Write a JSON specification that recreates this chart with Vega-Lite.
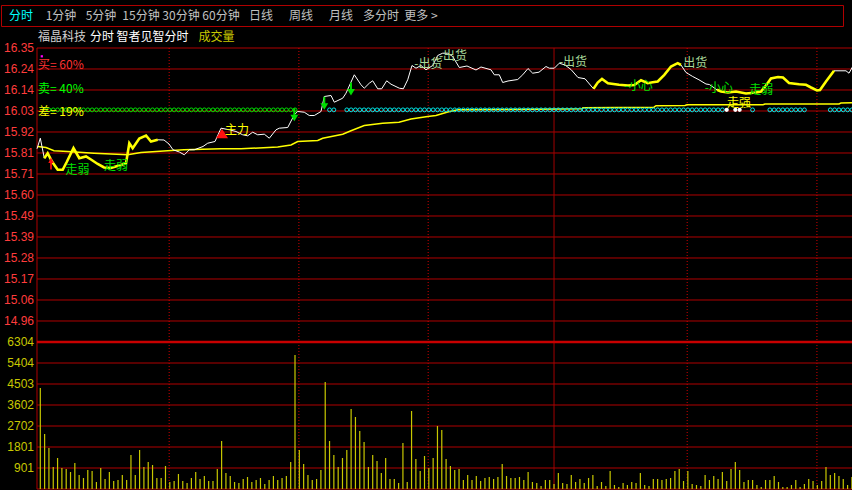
{
  "$schema": "https://vega.github.io/schema/vega-lite/v6.json",
  "background": "#000000",
  "padding": {"left": 0, "top": 4, "right": 0, "bottom": 0},
  "bounds": "flush",
  "spacing": 0,
  "resolve": {"scale": {"color": "independent", "x": "independent"}},
  "config": {"view": {"stroke": null}, "text": {"font": "Noto Sans CJK SC"}},
  "datasets": {
    "toolbar": [
      {"item": "分时", "i": 0, "state": "on"}, {"item": "1分钟", "i": 1, "state": "off"}, {"item": "5分钟", "i": 2, "state": "off"},
      {"item": "15分钟", "i": 3, "state": "off"}, {"item": "30分钟", "i": 4, "state": "off"}, {"item": "60分钟", "i": 5, "state": "off"},
      {"item": "日线", "i": 6, "state": "off"}, {"item": "周线", "i": 7, "state": "off"}, {"item": "月线", "i": 8, "state": "off"},
      {"item": "多分时", "i": 9, "state": "off"}, {"item": "更多 >", "i": 10, "state": "off"}
    ],
    "titlebar": [
      {"item": "福晶科技", "i": 0, "state": "name"}, {"item": "分时 智者见智分时", "i": 1, "state": "title"}, {"item": "成交量", "i": 2, "state": "ind"}
    ],
    "pgrid": [
      {"p": 16.35, "label": "16.35"}, {"p": 16.2430769, "label": "16.24"}, {"p": 16.1361538, "label": "16.14"},
      {"p": 16.0292308, "label": "16.03"}, {"p": 15.9223077, "label": "15.92"}, {"p": 15.8153846, "label": "15.81"},
      {"p": 15.7084615, "label": "15.71"}, {"p": 15.6015385, "label": "15.60"}, {"p": 15.4946154, "label": "15.49"},
      {"p": 15.3876923, "label": "15.39"}, {"p": 15.2807692, "label": "15.28"}, {"p": 15.1738462, "label": "15.17"},
      {"p": 15.0669231, "label": "15.06"}, {"p": 14.96, "label": "14.96"}
    ],
    "vgrid": [
      {"v": 0, "k": "g", "label": ""}, {"v": 900.5714, "k": "g", "label": "901"}, {"v": 1801.1429, "k": "g", "label": "1801"},
      {"v": 2701.7143, "k": "g", "label": "2702"}, {"v": 3602.2857, "k": "g", "label": "3602"}, {"v": 4502.8571, "k": "g", "label": "4503"},
      {"v": 5403.4286, "k": "g", "label": "5404"}, {"v": 6304, "k": "t", "label": "6304"}
    ],
    "vlines": [
      {"m": 29.85, "k": "d"}, {"m": 59.9, "k": "d"}, {"m": 89.85, "k": "d"}, {"m": 119.0, "k": "s"}, {"m": 149.85, "k": "d"}, {"m": 179.9, "k": "d"}
    ],
    "border": [{"m": -0.7644}],
    "price": [
      {"m": -0.76, "p": 15.8368, "s": 0}, {"m": 0, "p": 15.8907, "s": 0}, {"m": 0.93, "p": 15.7889, "s": 1},
      {"m": 1.71, "p": 15.8144, "s": 1}, {"m": 2.71, "p": 15.7721, "s": 1}, {"m": 4.03, "p": 15.7298, "s": 1},
      {"m": 5.19, "p": 15.7298, "s": 1}, {"m": 6.18, "p": 15.7721, "s": 1}, {"m": 7.69, "p": 15.8408, "s": 1},
      {"m": 9.03, "p": 15.7889, "s": 1}, {"m": 10.59, "p": 15.7976, "s": 1}, {"m": 11.74, "p": 15.7823, "s": 1},
      {"m": 13.3, "p": 15.7594, "s": 1}, {"m": 14.76, "p": 15.7416, "s": 1}, {"m": 16.38, "p": 15.739, "s": 1},
      {"m": 18.23, "p": 15.7517, "s": 1}, {"m": 19.85, "p": 15.7619, "s": 1}, {"m": 20.62, "p": 15.8653, "s": 1},
      {"m": 21.4, "p": 15.8398, "s": 1}, {"m": 22.93, "p": 15.8892, "s": 1}, {"m": 24.49, "p": 15.9045, "s": 1},
      {"m": 25.64, "p": 15.8739, "s": 1}, {"m": 27.2, "p": 15.8826, "s": 1}, {"m": 28.65, "p": 15.8816, "s": 0},
      {"m": 29.81, "p": 15.8612, "s": 0}, {"m": 30.74, "p": 15.8317, "s": 0}, {"m": 32.2, "p": 15.8205, "s": 0},
      {"m": 33.36, "p": 15.8062, "s": 0}, {"m": 34.52, "p": 15.8317, "s": 0}, {"m": 35.67, "p": 15.8317, "s": 0},
      {"m": 37.69, "p": 15.8485, "s": 0}, {"m": 38.78, "p": 15.8653, "s": 0}, {"m": 40.47, "p": 15.8739, "s": 0},
      {"m": 41.86, "p": 15.9417, "s": 0}, {"m": 43.78, "p": 15.9335, "s": 0}, {"m": 45.33, "p": 15.9249, "s": 0},
      {"m": 46.88, "p": 15.9081, "s": 0}, {"m": 48.04, "p": 15.903, "s": 0}, {"m": 49.2, "p": 15.9213, "s": 0},
      {"m": 50.36, "p": 15.9081, "s": 0}, {"m": 51.89, "p": 15.9111, "s": 0}, {"m": 53.05, "p": 15.8907, "s": 0},
      {"m": 54.6, "p": 15.9335, "s": 0}, {"m": 55.36, "p": 15.9417, "s": 0}, {"m": 57.31, "p": 15.9452, "s": 0},
      {"m": 58.84, "p": 16.0099, "s": 0}, {"m": 59.62, "p": 16.0267, "s": 0}, {"m": 61.15, "p": 16.0231, "s": 0},
      {"m": 62.31, "p": 16.0063, "s": 0}, {"m": 63.47, "p": 16.0063, "s": 0}, {"m": 65.02, "p": 16.0267, "s": 0},
      {"m": 65.79, "p": 16.1031, "s": 0}, {"m": 67.34, "p": 16.1082, "s": 0}, {"m": 68.1, "p": 16.074, "s": 0},
      {"m": 70.05, "p": 16.0944, "s": 0}, {"m": 70.81, "p": 16.1199, "s": 0}, {"m": 72.74, "p": 16.2136, "s": 0},
      {"m": 74.29, "p": 16.1626, "s": 0}, {"m": 75.05, "p": 16.1453, "s": 0}, {"m": 76.21, "p": 16.1708, "s": 0},
      {"m": 77.0, "p": 16.183, "s": 0}, {"m": 78.16, "p": 16.1423, "s": 0}, {"m": 79.08, "p": 16.1423, "s": 0},
      {"m": 80.24, "p": 16.183, "s": 0}, {"m": 81.24, "p": 16.1657, "s": 0}, {"m": 83.16, "p": 16.1453, "s": 0},
      {"m": 84.09, "p": 16.1423, "s": 0}, {"m": 85.11, "p": 16.1881, "s": 0}, {"m": 86.1, "p": 16.2609, "s": 0},
      {"m": 87.03, "p": 16.2471, "s": 0}, {"m": 88.19, "p": 16.2609, "s": 0}, {"m": 89.34, "p": 16.239, "s": 0},
      {"m": 90.9, "p": 16.2609, "s": 0}, {"m": 92.05, "p": 16.3118, "s": 0}, {"m": 93.21, "p": 16.3235, "s": 0},
      {"m": 94.37, "p": 16.3235, "s": 0}, {"m": 95.53, "p": 16.3067, "s": 0}, {"m": 97.06, "p": 16.2507, "s": 0},
      {"m": 98.84, "p": 16.2584, "s": 0}, {"m": 100.93, "p": 16.238, "s": 0}, {"m": 102.08, "p": 16.2533, "s": 0},
      {"m": 104.4, "p": 16.239, "s": 0}, {"m": 105.17, "p": 16.2136, "s": 0}, {"m": 106.32, "p": 16.2136, "s": 0},
      {"m": 107.11, "p": 16.1743, "s": 0}, {"m": 108.34, "p": 16.182, "s": 0}, {"m": 110.59, "p": 16.1896, "s": 0},
      {"m": 111.75, "p": 16.2136, "s": 0}, {"m": 112.97, "p": 16.2456, "s": 0}, {"m": 114.06, "p": 16.2217, "s": 0},
      {"m": 115.52, "p": 16.2268, "s": 0}, {"m": 117.14, "p": 16.2558, "s": 0}, {"m": 117.91, "p": 16.2471, "s": 0},
      {"m": 119.06, "p": 16.2471, "s": 0}, {"m": 120.22, "p": 16.2726, "s": 0}, {"m": 121.54, "p": 16.2634, "s": 0},
      {"m": 122.93, "p": 16.2405, "s": 0}, {"m": 124.55, "p": 16.1998, "s": 0}, {"m": 126.18, "p": 16.1932, "s": 0},
      {"m": 128.15, "p": 16.1423, "s": 2}, {"m": 129.12, "p": 16.1743, "s": 2}, {"m": 130.11, "p": 16.1922, "s": 2},
      {"m": 131.5, "p": 16.1708, "s": 2}, {"m": 134.05, "p": 16.1626, "s": 2}, {"m": 136.13, "p": 16.1591, "s": 2},
      {"m": 137.59, "p": 16.1616, "s": 2}, {"m": 139.15, "p": 16.1861, "s": 2}, {"m": 140.7, "p": 16.1708, "s": 2},
      {"m": 141.86, "p": 16.1759, "s": 2}, {"m": 143.02, "p": 16.1794, "s": 2}, {"m": 144.55, "p": 16.2136, "s": 2},
      {"m": 146.1, "p": 16.2558, "s": 2}, {"m": 147.65, "p": 16.2726, "s": 2}, {"m": 148.41, "p": 16.2634, "s": 2},
      {"m": 149.57, "p": 16.2253, "s": 0}, {"m": 151.12, "p": 16.2049, "s": 0}, {"m": 152.58, "p": 16.1881, "s": 0},
      {"m": 154.2, "p": 16.1667, "s": 0}, {"m": 154.97, "p": 16.1642, "s": 0}, {"m": 156.75, "p": 16.1372, "s": 3},
      {"m": 157.68, "p": 16.1285, "s": 3}, {"m": 159.3, "p": 16.1234, "s": 3}, {"m": 161.15, "p": 16.1285, "s": 3},
      {"m": 163.47, "p": 16.1183, "s": 3}, {"m": 165.79, "p": 16.1234, "s": 3}, {"m": 166.94, "p": 16.1285, "s": 3},
      {"m": 168.1, "p": 16.1591, "s": 3}, {"m": 169.26, "p": 16.1947, "s": 3}, {"m": 170.88, "p": 16.2023, "s": 3},
      {"m": 172.04, "p": 16.1998, "s": 3}, {"m": 173.43, "p": 16.1718, "s": 3}, {"m": 175.74, "p": 16.1657, "s": 3},
      {"m": 177.37, "p": 16.1626, "s": 3}, {"m": 178.53, "p": 16.1489, "s": 3}, {"m": 179.92, "p": 16.1336, "s": 3},
      {"m": 180.61, "p": 16.1362, "s": 3}, {"m": 182.0, "p": 16.1794, "s": 3}, {"m": 183.86, "p": 16.2339, "s": 3},
      {"m": 186.63, "p": 16.2339, "s": 0}, {"m": 187.33, "p": 16.2217, "s": 0}, {"m": 188.25, "p": 16.2584, "s": 0}
    ],
    "avg": [
      {"m": -0.6, "p": 15.8485}, {"m": 1.32, "p": 15.8434}, {"m": 3.17, "p": 15.8266}, {"m": 6.35, "p": 15.823},
      {"m": 12.44, "p": 15.8144}, {"m": 20.25, "p": 15.8062}, {"m": 23.33, "p": 15.8179}, {"m": 29.51, "p": 15.8266},
      {"m": 33.29, "p": 15.8317}, {"m": 41.86, "p": 15.8368}, {"m": 46.49, "p": 15.8368}, {"m": 54.99, "p": 15.8459},
      {"m": 58.07, "p": 15.8561}, {"m": 59.62, "p": 15.8739}, {"m": 64.26, "p": 15.879}, {"m": 65.42, "p": 15.8907},
      {"m": 70.05, "p": 15.9111}, {"m": 71.97, "p": 15.9284}, {"m": 75.05, "p": 15.9554}, {"m": 79.31, "p": 15.9671},
      {"m": 83.09, "p": 15.9722}, {"m": 85.87, "p": 15.9885}, {"m": 89.74, "p": 16.0012}, {"m": 91.66, "p": 16.0063},
      {"m": 94.37, "p": 16.0241}, {"m": 96.69, "p": 16.0353}, {"m": 106.72, "p": 16.0369}, {"m": 120.62, "p": 16.0394},
      {"m": 125.48, "p": 16.0404}, {"m": 125.71, "p": 16.046}, {"m": 142.16, "p": 16.0486}, {"m": 142.62, "p": 16.0562},
      {"m": 149.34, "p": 16.0572}, {"m": 149.8, "p": 16.0608}, {"m": 167.41, "p": 16.0608}, {"m": 167.87, "p": 16.0649},
      {"m": 185.0, "p": 16.0649}, {"m": 185.47, "p": 16.07}, {"m": 188.25, "p": 16.071}
    ],
    "dots": [
      {"m":1,"k":"g"},{"m":2,"k":"g"},{"m":3,"k":"g"},{"m":4,"k":"g"},{"m":5,"k":"g"},{"m":6,"k":"g"},{"m":7,"k":"g"},{"m":8,"k":"g"},{"m":9,"k":"g"},{"m":10,"k":"g"},
      {"m":11,"k":"g"},{"m":12,"k":"g"},{"m":13,"k":"g"},{"m":14,"k":"g"},{"m":15,"k":"g"},{"m":16,"k":"g"},{"m":17,"k":"g"},{"m":18,"k":"g"},{"m":19,"k":"g"},{"m":20,"k":"g"},
      {"m":21,"k":"g"},{"m":22,"k":"g"},{"m":23,"k":"g"},{"m":24,"k":"g"},{"m":25,"k":"g"},{"m":26,"k":"g"},{"m":27,"k":"g"},{"m":28,"k":"g"},{"m":29,"k":"g"},{"m":30,"k":"g"},
      {"m":31,"k":"g"},{"m":32,"k":"g"},{"m":33,"k":"g"},{"m":34,"k":"g"},{"m":35,"k":"g"},{"m":36,"k":"g"},{"m":37,"k":"g"},{"m":38,"k":"g"},{"m":39,"k":"g"},{"m":40,"k":"g"},
      {"m":41,"k":"g"},{"m":42,"k":"g"},{"m":43,"k":"g"},{"m":44,"k":"g"},{"m":45,"k":"g"},{"m":46,"k":"g"},{"m":47,"k":"g"},{"m":48,"k":"g"},{"m":49,"k":"g"},{"m":50,"k":"g"},
      {"m":51,"k":"g"},{"m":52,"k":"g"},{"m":53,"k":"g"},{"m":54,"k":"g"},{"m":55,"k":"g"},{"m":56,"k":"g"},{"m":57,"k":"g"},{"m":58,"k":"g"},{"m":59,"k":"g"},
      {"m":67,"k":"c"},{"m":68,"k":"c"},
      {"m":71,"k":"c"},{"m":72,"k":"c"},{"m":73,"k":"c"},{"m":74,"k":"c"},{"m":75,"k":"c"},{"m":76,"k":"c"},{"m":77,"k":"c"},{"m":78,"k":"c"},{"m":79,"k":"c"},{"m":80,"k":"c"},
      {"m":81,"k":"c"},{"m":82,"k":"c"},{"m":83,"k":"c"},{"m":84,"k":"c"},{"m":85,"k":"c"},{"m":86,"k":"c"},{"m":87,"k":"c"},{"m":88,"k":"c"},{"m":89,"k":"c"},{"m":90,"k":"c"},
      {"m":91,"k":"c"},{"m":92,"k":"c"},{"m":93,"k":"c"},{"m":94,"k":"c"},{"m":95,"k":"c"},{"m":96,"k":"c"},{"m":97,"k":"c"},{"m":98,"k":"c"},{"m":99,"k":"c"},{"m":100,"k":"c"},
      {"m":101,"k":"c"},{"m":102,"k":"c"},{"m":103,"k":"c"},{"m":104,"k":"c"},{"m":105,"k":"c"},{"m":106,"k":"c"},{"m":107,"k":"c"},{"m":108,"k":"c"},{"m":109,"k":"c"},{"m":110,"k":"c"},
      {"m":111,"k":"c"},{"m":112,"k":"c"},{"m":113,"k":"c"},{"m":114,"k":"c"},{"m":115,"k":"c"},{"m":116,"k":"c"},{"m":117,"k":"c"},{"m":118,"k":"c"},{"m":119,"k":"c"},{"m":120,"k":"c"},
      {"m":121,"k":"c"},{"m":122,"k":"c"},{"m":123,"k":"c"},{"m":124,"k":"c"},{"m":125,"k":"c"},{"m":126,"k":"c"},{"m":127,"k":"c"},{"m":128,"k":"c"},{"m":129,"k":"c"},{"m":130,"k":"c"},
      {"m":131,"k":"c"},{"m":132,"k":"c"},{"m":133,"k":"c"},{"m":134,"k":"c"},{"m":135,"k":"c"},{"m":136,"k":"c"},{"m":137,"k":"c"},{"m":138,"k":"c"},{"m":139,"k":"c"},{"m":140,"k":"c"},
      {"m":141,"k":"c"},{"m":142,"k":"c"},{"m":143,"k":"c"},{"m":144,"k":"c"},{"m":145,"k":"c"},{"m":146,"k":"c"},{"m":147,"k":"c"},{"m":148,"k":"c"},{"m":149,"k":"c"},{"m":150,"k":"c"},
      {"m":151,"k":"c"},{"m":152,"k":"c"},{"m":153,"k":"c"},{"m":154,"k":"c"},{"m":155,"k":"c"},{"m":156,"k":"c"},{"m":157,"k":"c"},{"m":158,"k":"c"},
      {"m":159,"k":"w"},{"m":161,"k":"w"},{"m":162,"k":"w"},
      {"m":165,"k":"c"},
      {"m":169,"k":"c"},{"m":170,"k":"c"},{"m":171,"k":"c"},{"m":172,"k":"c"},{"m":173,"k":"c"},{"m":174,"k":"c"},{"m":175,"k":"c"},{"m":176,"k":"c"},{"m":177,"k":"c"},
      {"m":183,"k":"c"},{"m":184,"k":"c"},{"m":185,"k":"c"},{"m":186,"k":"c"},{"m":187,"k":"c"},{"m":188,"k":"c"}
    ],
    "sig": [
      {"m": 58.84, "p": 16.0099, "k": "down"}, {"m": 65.79, "p": 16.0689, "k": "down"}, {"m": 71.97, "p": 16.1413, "k": "down"},
      {"m": 2.48, "p": 15.7619, "k": "up"}, {"m": 42.1, "p": 15.9145, "k": "tri"}, {"m": 0.35, "p": 16.3077, "k": "dot"}
    ],
    "notes": [
      {"m": 8.62, "p": 15.7263, "t": "走弱", "k": "g"}, {"m": 17.54, "p": 15.7517, "t": "走弱", "k": "g"},
      {"m": 45.56, "p": 15.935, "t": "主力", "k": "y"}, {"m": 89.9, "p": 16.2685, "t": "-出货", "k": "lg"},
      {"m": 95.6, "p": 16.3118, "t": "-出货", "k": "lg"}, {"m": 123.4, "p": 16.2762, "t": "-出货", "k": "lg"},
      {"m": 151.7, "p": 16.2711, "t": "出货", "k": "lg"}, {"m": 138.6, "p": 16.154, "t": "-小心", "k": "g"},
      {"m": 157.2, "p": 16.1487, "t": "-小心", "k": "g"}, {"m": 167.0, "p": 16.1362, "t": "走弱", "k": "g"},
      {"m": 161.85, "p": 16.0725, "t": "走强", "k": "y"}
    ],
    "legend": [
      {"m": -0.53, "p": 16.2634, "t": "买= 60%", "k": "r"}, {"m": -0.53, "p": 16.1387, "t": "卖= 40%", "k": "g"},
      {"m": -0.53, "p": 16.0216, "t": "差= 19%", "k": "y"}
    ],
    "vol": [
      {"m":0,"v":4331},{"m":1,"v":2359},{"m":2,"v":1758},{"m":3,"v":943},{"m":4,"v":1329},{"m":5,"v":900},{"m":6,"v":858},{"m":7,"v":729},{"m":8,"v":1115},{"m":9,"v":600},
      {"m":10,"v":472},{"m":11,"v":815},{"m":12,"v":772},{"m":13,"v":300},{"m":14,"v":900},{"m":15,"v":429},{"m":16,"v":729},{"m":17,"v":343},{"m":18,"v":386},{"m":19,"v":600},
      {"m":20,"v":386},{"m":21,"v":1458},{"m":22,"v":600},{"m":23,"v":1673},{"m":24,"v":943},{"m":25,"v":1158},{"m":26,"v":1029},{"m":27,"v":472},{"m":28,"v":472},{"m":29,"v":986},
      {"m":30,"v":300},{"m":31,"v":343},{"m":32,"v":643},{"m":33,"v":343},{"m":34,"v":257},{"m":35,"v":472},{"m":36,"v":729},{"m":37,"v":429},{"m":38,"v":557},{"m":39,"v":343},
      {"m":40,"v":343},{"m":41,"v":858},{"m":42,"v":2059},{"m":43,"v":686},{"m":44,"v":557},{"m":45,"v":300},{"m":46,"v":257},{"m":47,"v":429},{"m":48,"v":515},{"m":49,"v":300},
      {"m":50,"v":386},{"m":51,"v":472},{"m":52,"v":214},{"m":53,"v":386},{"m":54,"v":557},{"m":55,"v":386},{"m":56,"v":472},{"m":57,"v":557},{"m":58,"v":1158},{"m":59,"v":5747},
      {"m":60,"v":1673},{"m":61,"v":1072},{"m":62,"v":600},{"m":63,"v":386},{"m":64,"v":429},{"m":65,"v":815},{"m":66,"v":4589},{"m":67,"v":2059},{"m":68,"v":1458},{"m":69,"v":943},
      {"m":70,"v":1329},{"m":71,"v":1673},{"m":72,"v":3431},{"m":73,"v":3088},{"m":74,"v":2487},{"m":75,"v":2016},{"m":76,"v":943},{"m":77,"v":1458},{"m":78,"v":1201},{"m":79,"v":686},
      {"m":80,"v":1329},{"m":81,"v":429},{"m":82,"v":429},{"m":83,"v":257},{"m":84,"v":1973},{"m":85,"v":300},{"m":86,"v":3345},{"m":87,"v":1287},{"m":88,"v":772},{"m":89,"v":1415},
      {"m":90,"v":900},{"m":91,"v":1329},{"m":92,"v":2702},{"m":93,"v":2530},{"m":94,"v":1287},{"m":95,"v":986},{"m":96,"v":815},{"m":97,"v":858},{"m":98,"v":386},{"m":99,"v":600},
      {"m":100,"v":386},{"m":101,"v":557},{"m":102,"v":343},{"m":103,"v":472},{"m":104,"v":515},{"m":105,"v":429},{"m":106,"v":515},{"m":107,"v":1072},{"m":108,"v":557},{"m":109,"v":472},
      {"m":110,"v":472},{"m":111,"v":515},{"m":112,"v":386},{"m":113,"v":729},{"m":114,"v":300},{"m":115,"v":257},{"m":116,"v":129},{"m":117,"v":386},{"m":118,"v":386},{"m":119,"v":214},
      {"m":120,"v":686},{"m":121,"v":257},{"m":122,"v":214},{"m":123,"v":600},{"m":124,"v":300},{"m":125,"v":429},{"m":126,"v":257},{"m":127,"v":472},{"m":128,"v":600},{"m":129,"v":129},
      {"m":130,"v":300},{"m":131,"v":129},{"m":132,"v":772},{"m":133,"v":172},{"m":134,"v":86},{"m":135,"v":257},{"m":136,"v":172},{"m":137,"v":300},{"m":138,"v":257},{"m":139,"v":686},
      {"m":140,"v":172},{"m":141,"v":129},{"m":142,"v":429},{"m":143,"v":429},{"m":144,"v":386},{"m":145,"v":429},{"m":146,"v":472},{"m":147,"v":772},{"m":148,"v":858},{"m":149,"v":343},
      {"m":150,"v":772},{"m":151,"v":214},{"m":152,"v":172},{"m":153,"v":129},{"m":154,"v":600},{"m":155,"v":386},{"m":156,"v":557},{"m":157,"v":429},{"m":158,"v":729},{"m":159,"v":343},
      {"m":160,"v":858},{"m":161,"v":1158},{"m":162,"v":815},{"m":163,"v":300},{"m":164,"v":386},{"m":165,"v":386},{"m":166,"v":172},{"m":167,"v":86},{"m":168,"v":386},{"m":169,"v":386},
      {"m":170,"v":557},{"m":171,"v":300},{"m":172,"v":86},{"m":173,"v":86},{"m":174,"v":172},{"m":175,"v":386},{"m":176,"v":86},{"m":177,"v":214},{"m":178,"v":429},{"m":179,"v":343},
      {"m":180,"v":172},{"m":181,"v":343},{"m":182,"v":943},{"m":183,"v":600},{"m":184,"v":686},{"m":185,"v":557},{"m":186,"v":429},{"m":187,"v":172},{"m":188,"v":515}
    ]
  },
  "vconcat": [
    {
      "width": 842,
      "height": 21,
      "view": {"stroke": "#b00000", "strokeWidth": 1},
      "data": {"name": "toolbar"},
      "mark": {"type": "text", "font": "Noto Sans CJK SC", "fontSize": 12, "baseline": "middle", "align": "center"},
      "encoding": {
        "x": {"field": "i", "type": "quantitative", "axis": null, "scale": {"domain": [-0.5, 20.55], "nice": false, "zero": false}},
        "text": {"field": "item"},
        "color": {"field": "state", "type": "nominal", "legend": null,
                  "scale": {"domain": ["on", "off"], "range": ["#00ffff", "#c0c0c0"]}}
      }
    },
    {
      "width": 852,
      "height": 21.5,
      "data": {"name": "titlebar"},
      "mark": {"type": "text", "font": "Noto Sans CJK SC", "fontSize": 12, "baseline": "middle", "align": "center"},
      "encoding": {
        "x": {"field": "i", "type": "quantitative", "axis": null, "scale": {"domain": [-0.7896, 10.2395], "nice": false, "zero": false}},
        "text": {"field": "item"},
        "color": {"field": "state", "type": "nominal", "legend": null,
                  "scale": {"domain": ["name", "title", "ind"], "range": ["#d0d0d0", "#ffffff", "#c8c800"]}}
      }
    },
    {
      "width": 852,
      "height": 441,
      "layer": [
        {
          "layer": [
            {
              "data": {"name": "pgrid"},
              "mark": {"type": "rule", "color": "#b00000", "strokeWidth": 1},
              "encoding": {
                "x": {"datum": -0.7644, "type": "quantitative", "scale": {"domain": [-9.1035, 188.2566], "nice": false, "zero": false}, "axis": null},
                "x2": {"datum": 188.2566},
                "y": {"field": "p", "type": "quantitative", "scale": {"domain": [14.1046, 16.35], "nice": false, "zero": false}, "axis": null}
              }
            },
            {
              "data": {"name": "pgrid"},
              "mark": {"type": "text", "font": "Liberation Sans", "fontSize": 12, "align": "right", "baseline": "middle", "dx": -3, "color": "#ff3c3c"},
              "encoding": {
                "x": {"datum": -0.7644, "type": "quantitative", "scale": {"domain": [-9.1035, 188.2566], "nice": false, "zero": false}, "axis": null},
                "y": {"field": "p", "type": "quantitative", "scale": {"domain": [14.1046, 16.35], "nice": false, "zero": false}, "axis": null},
                "text": {"field": "label"}
              }
            },
            {
              "data": {"name": "border"},
              "mark": {"type": "rule", "color": "#b00000", "strokeWidth": 1},
              "encoding": {
                "x": {"field": "m", "type": "quantitative", "scale": {"domain": [-9.1035, 188.2566], "nice": false, "zero": false}, "axis": null}
              }
            },
            {
              "data": {"name": "vlines"},
              "mark": {"type": "rule", "strokeWidth": 1},
              "encoding": {
                "x": {"field": "m", "type": "quantitative", "scale": {"domain": [-9.1035, 188.2566], "nice": false, "zero": false}, "axis": null},
                "strokeDash": {"field": "k", "type": "nominal", "legend": null, "scale": {"domain": ["d", "s"], "range": [[1, 2], [1, 0]]}},
                "color": {"field": "k", "type": "nominal", "legend": null, "scale": {"domain": ["d", "s"], "range": ["#d00000", "#a00000"]}}
              }
            },
            {
              "data": {"name": "avg"},
              "mark": {"type": "line", "color": "#ffff00", "strokeWidth": 1.5},
              "encoding": {
                "x": {"field": "m", "type": "quantitative", "scale": {"domain": [-9.1035, 188.2566], "nice": false, "zero": false}, "axis": null},
                "y": {"field": "p", "type": "quantitative", "scale": {"domain": [14.1046, 16.35], "nice": false, "zero": false}, "axis": null}
              }
            },
            {
              "data": {"name": "price"},
              "mark": {"type": "line", "color": "#ffffff", "strokeWidth": 1},
              "encoding": {
                "x": {"field": "m", "type": "quantitative", "scale": {"domain": [-9.1035, 188.2566], "nice": false, "zero": false}, "axis": null},
                "y": {"field": "p", "type": "quantitative", "scale": {"domain": [14.1046, 16.35], "nice": false, "zero": false}, "axis": null}
              }
            },
            {
              "data": {"name": "price"},
              "transform": [{"filter": "datum.s > 0"}],
              "mark": {"type": "line", "color": "#ffff00", "strokeWidth": 2.6},
              "encoding": {
                "x": {"field": "m", "type": "quantitative", "scale": {"domain": [-9.1035, 188.2566], "nice": false, "zero": false}, "axis": null},
                "y": {"field": "p", "type": "quantitative", "scale": {"domain": [14.1046, 16.35], "nice": false, "zero": false}, "axis": null},
                "detail": {"field": "s", "type": "nominal"}
              }
            },
            {
              "data": {"name": "dots"},
              "transform": [{"filter": "datum.k != 'w'"}],
              "mark": {"type": "point", "shape": "circle", "filled": false, "size": 15, "strokeWidth": 1, "opacity": 1},
              "encoding": {
                "x": {"field": "m", "type": "quantitative", "scale": {"domain": [-9.1035, 188.2566], "nice": false, "zero": false}, "axis": null},
                "y": {"datum": 16.035, "type": "quantitative", "scale": {"domain": [14.1046, 16.35], "nice": false, "zero": false}, "axis": null},
                "color": {"field": "k", "type": "nominal", "legend": null, "scale": {"domain": ["g", "c"], "range": ["#00e000", "#00e8e8"]}}
              }
            },
            {
              "data": {"name": "dots"},
              "transform": [{"filter": "datum.k == 'w'"}],
              "mark": {"type": "point", "shape": "circle", "filled": true, "size": 18, "color": "#ffffff", "opacity": 1},
              "encoding": {
                "x": {"field": "m", "type": "quantitative", "scale": {"domain": [-9.1035, 188.2566], "nice": false, "zero": false}, "axis": null},
                "y": {"datum": 16.035, "type": "quantitative", "scale": {"domain": [14.1046, 16.35], "nice": false, "zero": false}, "axis": null}
              }
            },
            {
              "data": {"name": "sig"},
              "transform": [{"filter": "datum.k == 'down'"}],
              "mark": {"type": "point", "shape": "M-0.15,-1L0.15,-1L0.15,0L0.6,0L0,1L-0.6,0L-0.15,0Z", "filled": true, "size": 169, "color": "#00dd00", "opacity": 1, "strokeWidth": 0},
              "encoding": {
                "x": {"field": "m", "type": "quantitative", "scale": {"domain": [-9.1035, 188.2566], "nice": false, "zero": false}, "axis": null},
                "y": {"field": "p", "type": "quantitative", "scale": {"domain": [14.1046, 16.35], "nice": false, "zero": false}, "axis": null}
              }
            },
            {
              "data": {"name": "sig"},
              "transform": [{"filter": "datum.k == 'up'"}],
              "mark": {"type": "point", "shape": "M-0.14,1L0.14,1L0.14,-0.1L0.45,-0.1L0,-1L-0.45,-0.1L-0.14,-0.1Z", "filled": true, "size": 144, "color": "#ff1010", "opacity": 1, "strokeWidth": 0},
              "encoding": {
                "x": {"field": "m", "type": "quantitative", "scale": {"domain": [-9.1035, 188.2566], "nice": false, "zero": false}, "axis": null},
                "y": {"field": "p", "type": "quantitative", "scale": {"domain": [14.1046, 16.35], "nice": false, "zero": false}, "axis": null}
              }
            },
            {
              "data": {"name": "sig"},
              "transform": [{"filter": "datum.k == 'tri'"}],
              "mark": {"type": "point", "shape": "M0,-0.8L1,0.8L-1,0.8Z", "filled": true, "size": 144, "color": "#ff1010", "opacity": 1, "strokeWidth": 0},
              "encoding": {
                "x": {"field": "m", "type": "quantitative", "scale": {"domain": [-9.1035, 188.2566], "nice": false, "zero": false}, "axis": null},
                "y": {"field": "p", "type": "quantitative", "scale": {"domain": [14.1046, 16.35], "nice": false, "zero": false}, "axis": null}
              }
            },
            {
              "data": {"name": "sig"},
              "transform": [{"filter": "datum.k == 'dot'"}],
              "mark": {"type": "point", "shape": "square", "filled": true, "size": 5, "color": "#ff00ff", "opacity": 1},
              "encoding": {
                "x": {"field": "m", "type": "quantitative", "scale": {"domain": [-9.1035, 188.2566], "nice": false, "zero": false}, "axis": null},
                "y": {"field": "p", "type": "quantitative", "scale": {"domain": [14.1046, 16.35], "nice": false, "zero": false}, "axis": null}
              }
            },
            {
              "data": {"name": "notes"},
              "mark": {"type": "text", "font": "Noto Sans CJK SC", "fontSize": 12, "align": "center", "baseline": "middle"},
              "encoding": {
                "x": {"field": "m", "type": "quantitative", "scale": {"domain": [-9.1035, 188.2566], "nice": false, "zero": false}, "axis": null},
                "y": {"field": "p", "type": "quantitative", "scale": {"domain": [14.1046, 16.35], "nice": false, "zero": false}, "axis": null},
                "text": {"field": "t"},
                "color": {"field": "k", "type": "nominal", "legend": null, "scale": {"domain": ["g", "y", "lg"], "range": ["#00e000", "#ffff00", "#a8d898"]}}
              }
            },
            {
              "data": {"name": "legend"},
              "mark": {"type": "text", "font": "Noto Sans CJK SC", "fontSize": 12, "align": "left", "baseline": "middle"},
              "encoding": {
                "x": {"field": "m", "type": "quantitative", "scale": {"domain": [-9.1035, 188.2566], "nice": false, "zero": false}, "axis": null},
                "y": {"field": "p", "type": "quantitative", "scale": {"domain": [14.1046, 16.35], "nice": false, "zero": false}, "axis": null},
                "text": {"field": "t"},
                "color": {"field": "k", "type": "nominal", "legend": null, "scale": {"domain": ["r", "g", "y"], "range": ["#ff3232", "#00ff00", "#ffff00"]}}
              }
            }
          ],
          "resolve": {"scale": {"color": "independent", "strokeDash": "independent"}}
        },
        {
          "layer": [
            {
              "data": {"name": "vgrid"},
              "mark": {"type": "rule"},
              "encoding": {
                "x": {"datum": -0.7644, "type": "quantitative", "scale": {"domain": [-9.1035, 188.2566], "nice": false, "zero": false}, "axis": null},
                "x2": {"datum": 188.2566},
                "y": {"field": "v", "type": "quantitative", "scale": {"domain": [0, 18912], "nice": false, "zero": false}, "axis": null},
                "size": {"field": "k", "type": "nominal", "legend": null, "scale": {"domain": ["g", "t"], "range": [1, 2.5]}},
                "color": {"field": "k", "type": "nominal", "legend": null, "scale": {"domain": ["g", "t"], "range": ["#b00000", "#c80000"]}}
              }
            },
            {
              "data": {"name": "vgrid"},
              "mark": {"type": "text", "font": "Liberation Sans", "fontSize": 12, "align": "right", "baseline": "middle", "dx": -3, "color": "#c8c800"},
              "encoding": {
                "x": {"datum": -0.7644, "type": "quantitative", "scale": {"domain": [-9.1035, 188.2566], "nice": false, "zero": false}, "axis": null},
                "y": {"field": "v", "type": "quantitative", "scale": {"domain": [0, 18912], "nice": false, "zero": false}, "axis": null},
                "text": {"field": "label"}
              }
            },
            {
              "data": {"name": "vol"},
              "mark": {"type": "rule", "color": "#c8c800", "strokeWidth": 1.2},
              "encoding": {
                "x": {"field": "m", "type": "quantitative", "scale": {"domain": [-9.1035, 188.2566], "nice": false, "zero": false}, "axis": null},
                "y": {"field": "v", "type": "quantitative", "scale": {"domain": [0, 18912], "nice": false, "zero": false}, "axis": null},
                "y2": {"datum": 0}
              }
            }
          ],
          "resolve": {"scale": {"color": "independent"}}
        }
      ],
      "resolve": {"scale": {"y": "independent", "color": "independent", "size": "independent", "strokeDash": "independent"}}
    }
  ]
}
